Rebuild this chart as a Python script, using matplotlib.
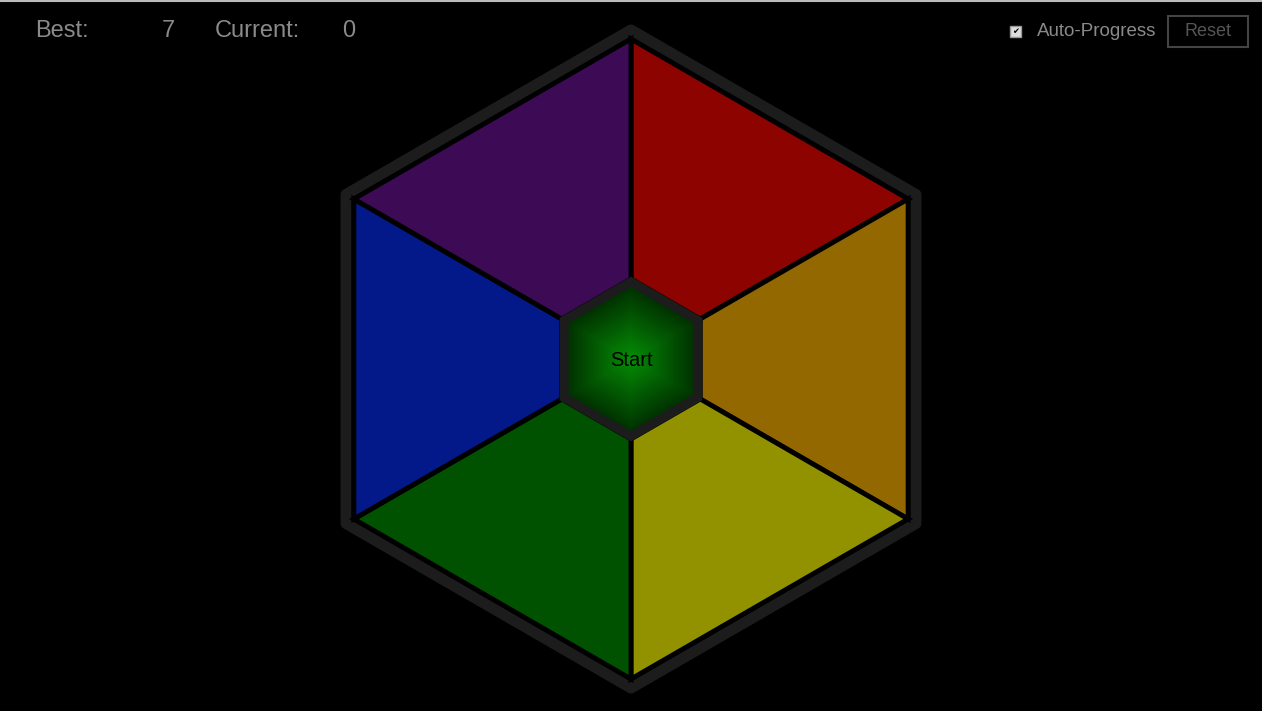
import matplotlib.pyplot as plt
import numpy as np
from matplotlib.patches import Polygon, Rectangle

plt.rcParams['font.family'] = ['Liberation Sans', 'DejaVu Sans']

# Game panel data
segment_names = ['red', 'orange', 'yellow', 'green', 'blue', 'purple']
segment_colors = ['#8c0300', '#946800', '#929200', '#005200', '#03198a', '#3d0a55']
segment_angles = [90, 30, -30, -90, -150, 150]  # starting vertex angle of each wedge
best_score = 7
current_score = 0

W, H = 1262, 711
cx, cy = 631, 359
R_outer = 329
R_fill = 320
R_inner = 80

fig = plt.figure(figsize=(W / 100, H / 100), dpi=100, facecolor='black')
ax = fig.add_axes([0, 0, 1, 1])
ax.set_xlim(0, W)
ax.set_ylim(H, 0)
ax.axis('off')
ax.set_facecolor('black')

ax.plot([0, W], [1, 1], color='#bbbbbb', lw=1.5)


def pt(r, a):
    return cx + r * np.cos(np.radians(a)), cy - r * np.sin(np.radians(a))


def hexagon(r):
    return [pt(r, a) for a in range(90, 450, 60)]


# outer frame
ax.add_patch(Polygon(hexagon(R_outer), closed=True, facecolor='black',
                     edgecolor='#1c1c1c', lw=8, joinstyle='round'))

# coloured wedges
for a0, col in zip(segment_angles, segment_colors):
    a1 = a0 - 60
    pts = [pt(R_fill, a0), pt(R_fill, a1), pt(R_inner, a1), pt(R_inner, a0)]
    ax.add_patch(Polygon(pts, closed=True, facecolor=col, edgecolor='black', lw=3.5,
                         joinstyle='miter'))

# centre button with radial gradient
ax.add_patch(Polygon(hexagon(R_inner), closed=True, facecolor='#1c1c1c',
                     edgecolor='#1c1c1c', lw=3))
for i, r in enumerate(np.linspace(R_inner - 8, 1, 40)):
    t = i / 39
    g = 0.2 + 0.35 * t
    ax.add_patch(Polygon(hexagon(r), closed=True, facecolor=(0.02 * t, g, 0.02 * t),
                         edgecolor='none'))
ax.text(cx, cy + 1, 'Start', color='black', fontsize=14.5, ha='center', va='center')

# header
gray = '#8a8a8a'
ax.text(35, 31, 'Best:', color=gray, fontsize=17, va='center')
ax.text(162, 31, str(best_score), color=gray, fontsize=17, va='center')
ax.text(215, 31, 'Current:', color=gray, fontsize=17, va='center')
ax.text(342, 31, str(current_score), color=gray, fontsize=17, va='center')

ax.add_patch(Rectangle((1010, 26), 11, 11, facecolor='#dddddd', edgecolor='#999999', lw=1))
ax.text(1015.5, 31.5, '✔', color='black', fontsize=6, ha='center', va='center',
        family='DejaVu Sans')
ax.text(1037, 32, 'Auto-Progress', color=gray, fontsize=13.5, va='center')
ax.add_patch(Rectangle((1168, 16), 80, 31, facecolor='black', edgecolor='#444444', lw=1.5))
ax.text(1208, 32, 'Reset', color='#555555', fontsize=13, ha='center', va='center')

fig.savefig('out.png', dpi=100, facecolor='black')
